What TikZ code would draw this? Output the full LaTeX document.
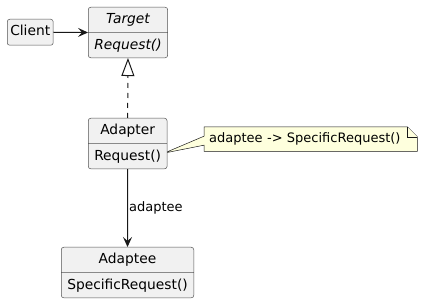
\documentclass[tikz,border=0pt]{standalone}
\usepackage{fontspec}
\setmainfont{DejaVu Sans}
\usetikzlibrary{arrows.meta,shapes.multipart,backgrounds}
\definecolor{boxfill}{HTML}{F1F1F1}
\definecolor{boxline}{HTML}{181818}
\definecolor{notefill}{HTML}{FEFFDD}
\newcommand{\classfont}{\fontsize{13.8}{16}\selectfont}
\newcommand{\notefont}{\fontsize{13}{15}\selectfont}
\begin{document}
\begin{tikzpicture}[x=1pt,y=-1pt]
\tikzset{
  classbox/.style={rectangle split,rectangle split parts=2,rectangle split part align={center,left},
    draw=boxline!75,line width=0.5pt,fill=boxfill,rounded corners=2.5pt,
    inner xsep=6pt,inner ysep=5.6pt,text height=10.5pt,text depth=3.3pt,font=\classfont,anchor=north west},
  plainbox/.style={rectangle,draw=boxline!75,line width=0.5pt,fill=boxfill,rounded corners=2.5pt,
    inner xsep=3pt,inner ysep=6.1pt,text height=10.5pt,text depth=3.3pt,font=\classfont,anchor=north west},
  notebox/.style={draw=boxline,line width=0.5pt,fill=notefill},
  assoc/.style={-{Stealth[length=10pt,width=9pt,inset=4pt]},line width=1pt,draw=boxline},
  realize/.style={-{Triangle[open,length=18pt,width=13pt]},line width=1pt,draw=boxline,dash pattern=on 5pt off 5pt}
}
\useasboundingbox (0,0) rectangle (421,302);
\node[plainbox] (client) at (7,19) {Client};
\node[classbox] (target) at (88,7) {\itshape Target\nodepart{two}\itshape Request()};
\node[classbox] (adapter) at (88,118) {Adapter\nodepart{two}Request()};
\node[classbox] (adaptee) at (61,247) {Adaptee\nodepart{two}SpecificRequest()};
\node[anchor=north west,text width=203pt,align=left,inner xsep=5pt,inner ysep=0pt,
  minimum height=24pt,font=\notefont] (note) at (204,127) {adaptee -> SpecificRequest()};
% note outline with folded corner
\coordinate (notetip) at ([xshift=-3pt,yshift=16pt]adapter.south east);
\coordinate (foldtop) at ([xshift=-10pt]note.north east);
\coordinate (foldside) at ([yshift=-10pt]note.north east);
\begin{pgfonlayer}{background}
\draw[notebox] (note.south west) -- ([yshift=-6pt]note.west) -- (notetip) -- ([yshift=3pt]note.west)
  -- (note.north west) -- (foldtop) -- (foldside) -- (note.south east) -- cycle;
\draw[notebox] (foldtop) |- (foldside);
\end{pgfonlayer}
\draw[assoc] (client.east) -- (target.west);
\draw[realize] (adapter.north) -- (target.south);
\draw[assoc] (adapter.south) -- node[anchor=west,inner xsep=1pt,font=\notefont] {adaptee} (adaptee.north);
\end{tikzpicture}
\end{document}
